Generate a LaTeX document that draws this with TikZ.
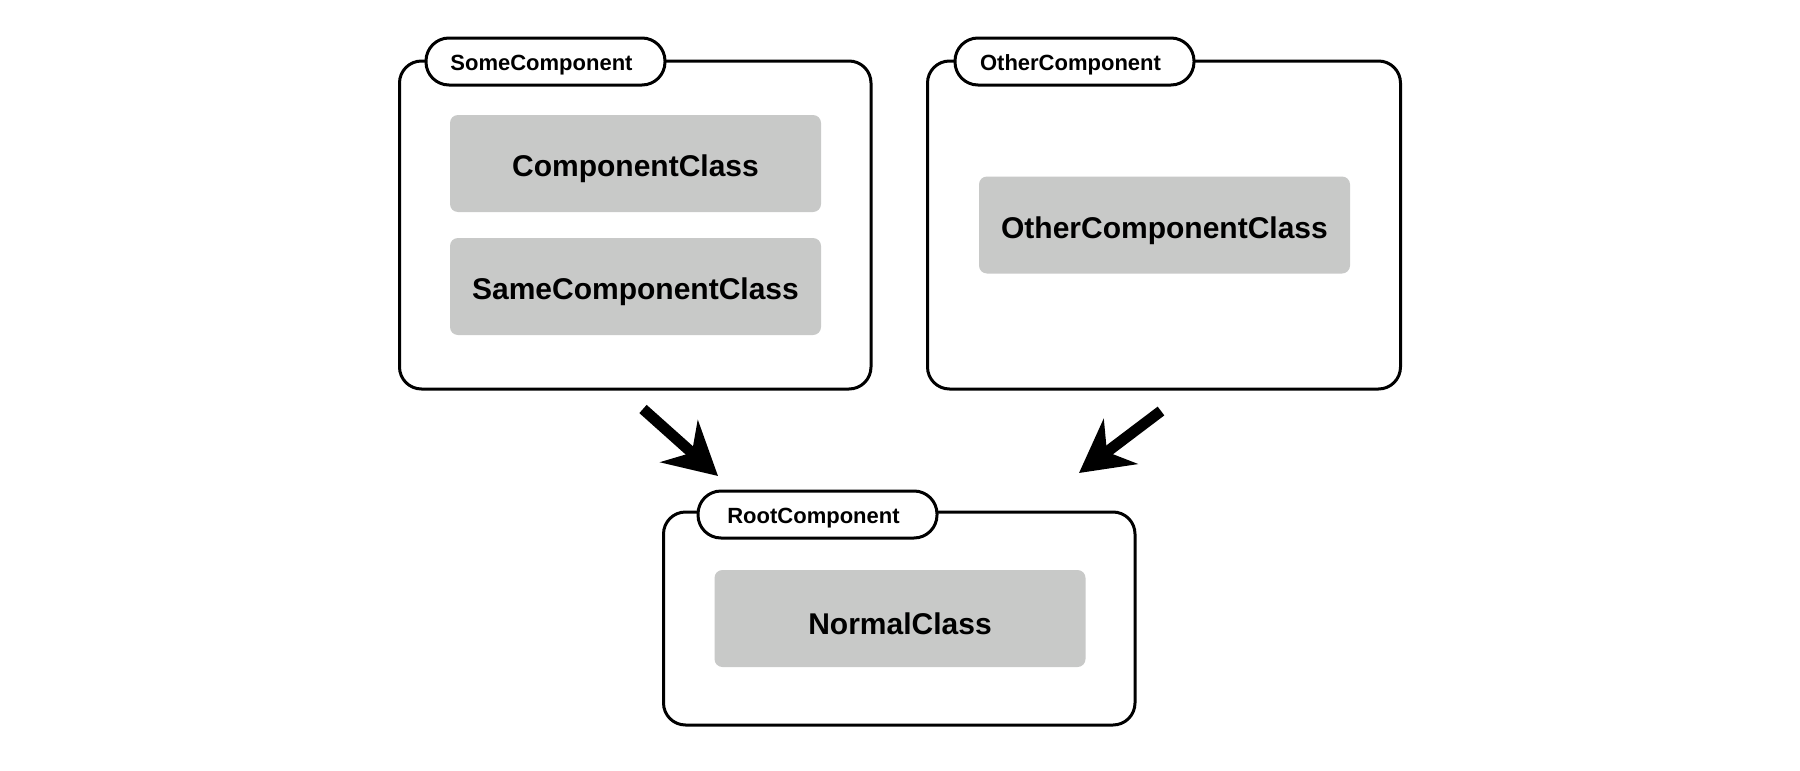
\documentclass[tikz,border=0pt]{standalone}
\usepackage{fontspec}
\setmainfont{Liberation Sans}
\usetikzlibrary{arrows.meta}
\definecolor{classgray}{HTML}{C8C9C8}
\newcommand{\tabtext}[1]{\kern-8pt\raisebox{-3.5pt}[\height][\depth]{#1}}
\newcommand{\classtext}[1]{\raisebox{-5.5pt}[\height][\depth]{#1}}
\tikzset{
  compbox/.style={draw=black, line width=3pt, rounded corners=22pt, fill=white, inner sep=0pt},
  comptab/.style={draw=black, line width=3pt, rounded corners=23pt, fill=white, inner sep=0pt,
    minimum width=239pt, minimum height=47pt, font=\bfseries\fontsize{22}{26}\selectfont},
  classbox/.style={fill=classgray, rounded corners=8pt, inner sep=0pt,
    minimum width=371pt, minimum height=97pt, font=\bfseries\fontsize{30}{36}\selectfont},
  bigarrow/.style={line width=11pt, -{Stealth[length=52pt 0, width=56pt 0, inset=17pt 0]}}
}
\begin{document}
\begin{tikzpicture}[x=1pt,y=-1pt]
\useasboundingbox (0,0) rectangle (1800,771);
% SomeComponent
\node[compbox, minimum width=471.5pt, minimum height=328pt] (some) at (635.25,225) {};
\node[comptab] (sometab) at (545.5,61.5) {\tabtext{SomeComponent}};
\node[classbox] (compclass) at (635.5,163.5) {\classtext{ComponentClass}};
\node[classbox] (sameclass) at (635.5,286.5) {\classtext{SameComponentClass}};
% OtherComponent
\node[compbox, minimum width=473pt, minimum height=328pt] (other) at (1164,225) {};
\node[comptab] (othertab) at (1074.5,61.5) {\tabtext{OtherComponent}};
\node[classbox] (otherclass) at (1164.5,225) {\classtext{OtherComponentClass}};
% RootComponent
\node[compbox, minimum width=471.5pt, minimum height=213pt] (root) at (899.25,618.5) {};
\node[comptab] (roottab) at (817.5,514.5) {\tabtext{RootComponent}};
\node[classbox] (normalclass) at (900,618.5) {\classtext{NormalClass}};
% arrows
\coordinate (a1s) at (643,409);
\coordinate (a1e) at (718,476);
\coordinate (a2s) at (1161,411);
\coordinate (a2e) at (1079,473);
\draw[bigarrow] (a1s) -- (a1e);
\draw[bigarrow] (a2s) -- (a2e);
\end{tikzpicture}
\end{document}
